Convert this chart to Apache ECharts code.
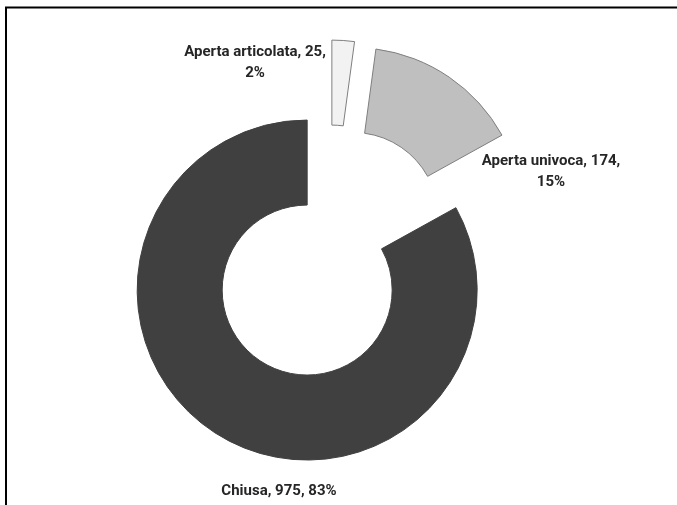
<!DOCTYPE html>
<html>
<head>
<meta charset="utf-8">
<script src="https://cdn.jsdelivr.net/npm/echarts@6/dist/echarts.min.js"></script>
<style>
html,body{margin:0;padding:0;background:#fff;}
#chart{width:677px;height:505px;}
</style>
</head>
<body>
<div id="chart"></div>
<script>
var categories = ['Aperta articolata', 'Aperta univoca', 'Chiusa'];
var values = [25, 174, 975];
var colors = ['#f2f2f2', '#bfbfbf', '#404040'];
var borders = ['#7f7f7f', '#7f7f7f', '#404040'];
var labelCenters = [[255, 63], [551, 172], [279, 491]];
var lineBreaks = [true, true, false];

var total = values.reduce(function (a, b) { return a + b; }, 0);
var chart = echarts.init(document.getElementById('chart'));
var data = categories.map(function (c, i) {
  return {
    name: c,
    value: values[i],
    selected: true,
    itemStyle: { color: colors[i], borderColor: borders[i], borderWidth: 1 }
  };
});
var labelTexts = categories.map(function (c, i) {
  return {
    type: 'text',
    silent: true,
    x: labelCenters[i][0],
    y: labelCenters[i][1],
    style: {
      text: c + ', ' + values[i] + ',' + (lineBreaks[i] ? '\n' : ' ') + Math.round(values[i] / total * 100) + '%',
      fontFamily: 'Roboto',
      fontWeight: 'bold',
      fontSize: 15,
      lineHeight: 21,
      fill: '#262626',
      align: 'center',
      verticalAlign: 'middle'
    }
  };
});
chart.setOption({
  animation: false,
  backgroundColor: '#fff',
  graphic: [{
    type: 'rect',
    silent: true,
    shape: { x: 6, y: 7.5, width: 720, height: 600 },
    style: { fill: 'none', stroke: '#000', lineWidth: 2 }
  }].concat(labelTexts),
  series: [{
    type: 'pie',
    center: [329, 253],
    radius: [85, 170],
    startAngle: 90,
    clockwise: true,
    selectedMode: 'multiple',
    selectedOffset: 43,
    emphasis: { disabled: true },
    labelLine: { show: false },
    label: { show: false },
    data: data
  }]
});
</script>
</body>
</html>
